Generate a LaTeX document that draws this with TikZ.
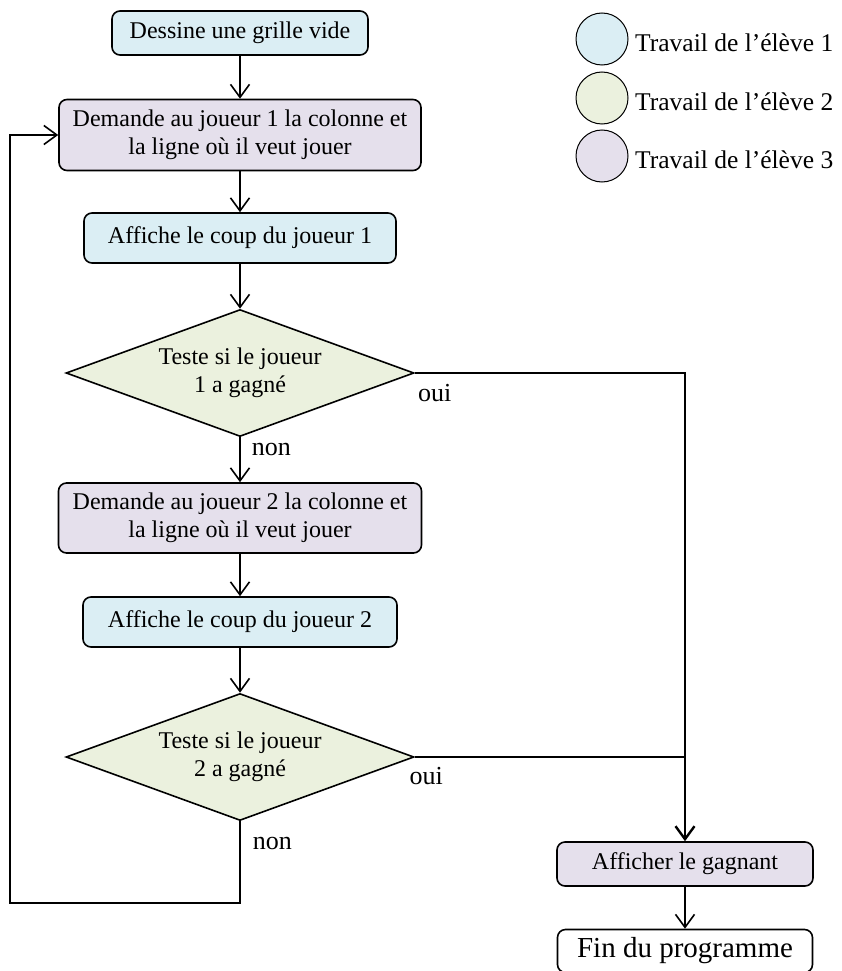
\documentclass[tikz,border=0pt]{standalone}
\usepackage{fontspec}
\setmainfont{Liberation Serif}
\usetikzlibrary{shapes.geometric,arrows.meta,positioning}
\definecolor{eleveun}{HTML}{DBEEF4}
\definecolor{elevedeux}{HTML}{EBF1DE}
\definecolor{elevetrois}{HTML}{E5E0EC}
\tikzstyle{texte} = [font=\fontsize{24pt}{27.5pt}\selectfont]
\tikzstyle{block1} = [rectangle, draw, texte, fill=eleveun, align=center,
rounded corners=8pt, line width=1.6pt, minimum height=44pt]
\tikzstyle{block3} = [rectangle, draw, texte, fill=elevetrois, align=center,
rounded corners=8pt, line width=1.6pt, minimum height=44pt]
\tikzstyle{decision} = [diamond, draw, texte, fill=elevedeux, align=center,
aspect=2.74, inner sep=0pt, line width=1.6pt, minimum width=348pt, minimum height=127pt]
\tikzstyle{finbox} = [rectangle, draw, font=\fontsize{29pt}{32pt}\selectfont,
rounded corners=8pt, line width=1.6pt, minimum width=255pt, minimum height=43pt]
\tikzstyle{line} = [draw, line width=1.6pt, -{Straight Barb[length=13pt,width=19pt]}]
\tikzstyle{label} = [font=\fontsize{26pt}{30pt}\selectfont, inner sep=0pt, anchor=west]

\begin{document}
\begin{tikzpicture}[x=1pt,y=1pt]
\useasboundingbox (0,0) rectangle (842,-971);
 % colonne principale
 \node [block1, minimum width=256pt] (dessine) at (240,-33) {Dessine une grille vide};
 \node [block3, below of=dessine, node distance=102pt, minimum width=362pt, minimum height=71pt] (demande1) {Demande au joueur 1 la colonne et\\la ligne où il veut jouer};
 \node [block1, below of=demande1, node distance=103pt, minimum width=312pt, minimum height=50pt] (affiche1) {Affiche le coup du joueur 1};
 \node [decision, below of=affiche1, node distance=135pt] (teste1) {Teste si le joueur\\1 a gagné};
 \node [block3, below of=teste1, node distance=145pt, minimum width=363pt, minimum height=70pt] (demande2) {Demande au joueur 2 la colonne et\\la ligne où il veut jouer};
 \node [block1, below of=demande2, node distance=104pt, minimum width=314pt, minimum height=50pt] (affiche2) {Affiche le coup du joueur 2};
 \node [decision, below of=affiche2, node distance=135pt] (teste2) {Teste si le joueur\\2 a gagné};
 % fin
 \node [block3, minimum width=256pt] (gagnant) at (685,-864) {Afficher le gagnant};
 \node [finbox, below of=gagnant, node distance=87pt] (fin) {Fin du programme};
 \coordinate (coin) at (10,-903);
 % fleches
 \path [line] (dessine) -- (demande1);
 \path [line] (demande1) -- (affiche1);
 \path [line] (affiche1) -- (teste1);
 \path [line] (teste1) -- node [label, pos=0.27, xshift=11pt] {non} (demande2);
 \path [line] (demande2) -- (affiche2);
 \path [line] (affiche2) -- (teste2);
 \path [line] (teste2.south) |- node [label, pos=0.136, xshift=12pt] {non} (coin) |- (demande1.west);
 \path [line, line width=2.4pt] (teste1.east) -| node [label, pos=0, xshift=2pt, yshift=-20.5pt] {oui} (gagnant.north);
 \path [draw, line width=1.6pt] (teste2.east) -- node [label, pos=0, xshift=-6pt, yshift=-19.5pt] {oui} (teste2.east -| gagnant.north);
 \path [line] (gagnant) -- (fin);
 % legende
 \foreach \y/\c/\n in {39/eleveun/1, 98/elevedeux/2, 156/elevetrois/3} {
  \node [circle, draw, fill=\c, line width=1pt, minimum size=52pt] (cercle\n) at (602,-\y) {};
  \node [font=\fontsize{25.5pt}{30pt}\selectfont, anchor=west, inner sep=2pt] (legende\n) at (633,-\y-4) {Travail de l’élève \n};
 }
\end{tikzpicture}
\end{document}
